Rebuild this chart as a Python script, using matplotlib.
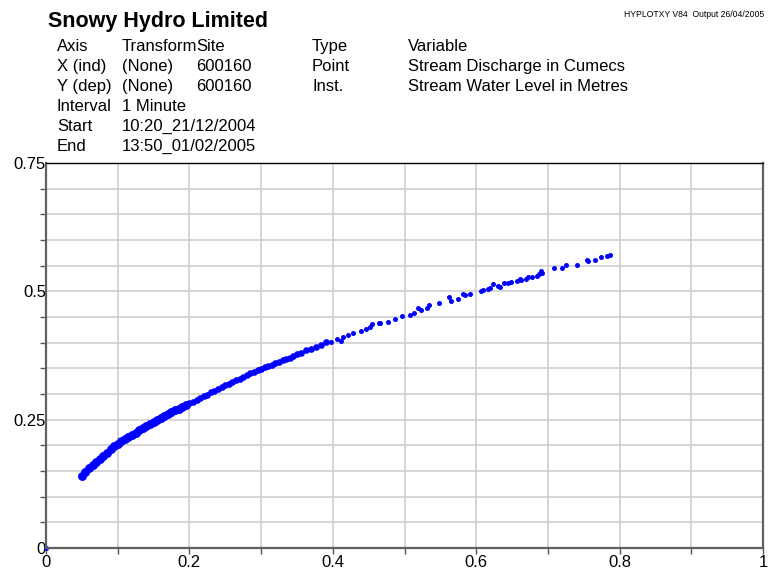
import matplotlib.pyplot as plt

plt.rcParams['font.family'] = ['Liberation Sans', 'DejaVu Sans']

# discharge (cumecs) vs water level (m), dense low-flow part
q_dense = [0.050, 0.055, 0.060, 0.065, 0.070, 0.075, 0.080, 0.085, 0.090, 0.095,
           0.100, 0.105, 0.110, 0.115, 0.120, 0.125, 0.130, 0.135, 0.140, 0.145,
           0.150, 0.155, 0.160, 0.165, 0.170, 0.175, 0.180, 0.185, 0.190, 0.195,
           0.200, 0.205, 0.210, 0.215, 0.220, 0.225, 0.230, 0.235, 0.240, 0.245,
           0.250, 0.255, 0.260, 0.265, 0.270, 0.275, 0.280, 0.285, 0.290, 0.295,
           0.300, 0.305, 0.310, 0.315, 0.320, 0.325, 0.330, 0.335, 0.340, 0.345,
           0.350, 0.356, 0.363, 0.370, 0.377, 0.384, 0.391]
h_dense = [0.141, 0.148, 0.155, 0.161, 0.168, 0.174, 0.180, 0.186, 0.192, 0.198,
           0.203, 0.208, 0.212, 0.217, 0.221, 0.225, 0.230, 0.234, 0.238, 0.242,
           0.246, 0.250, 0.253, 0.257, 0.261, 0.264, 0.268, 0.271, 0.275, 0.278,
           0.282, 0.285, 0.289, 0.292, 0.296, 0.299, 0.303, 0.306, 0.310, 0.313,
           0.317, 0.320, 0.323, 0.327, 0.330, 0.334, 0.337, 0.340, 0.343, 0.346,
           0.349, 0.352, 0.354, 0.357, 0.360, 0.363, 0.366, 0.368, 0.371, 0.374,
           0.377, 0.380, 0.385, 0.388, 0.391, 0.395, 0.401]

# sparse high-flow readings
q_sparse = [0.398, 0.406, 0.412, 0.414, 0.421, 0.428, 0.439, 0.446, 0.452, 0.455,
            0.464, 0.466, 0.477, 0.487, 0.496, 0.507, 0.513, 0.519, 0.523, 0.531,
            0.534, 0.548, 0.562, 0.565, 0.575, 0.582, 0.584, 0.592, 0.606, 0.609,
            0.616, 0.619, 0.624, 0.630, 0.633, 0.639, 0.645, 0.648, 0.657, 0.661,
            0.662, 0.670, 0.672, 0.678, 0.685, 0.688, 0.691, 0.692, 0.708, 0.720,
            0.725, 0.740, 0.754, 0.756, 0.766, 0.774, 0.783, 0.787, 0.0]
h_sparse = [0.402, 0.407, 0.404, 0.412, 0.415, 0.419, 0.423, 0.426, 0.431, 0.436,
            0.438, 0.438, 0.441, 0.446, 0.451, 0.454, 0.457, 0.468, 0.464, 0.468,
            0.473, 0.477, 0.488, 0.481, 0.485, 0.494, 0.492, 0.494, 0.501, 0.503,
            0.504, 0.506, 0.514, 0.511, 0.509, 0.516, 0.517, 0.519, 0.520, 0.525,
            0.522, 0.524, 0.527, 0.527, 0.530, 0.533, 0.540, 0.535, 0.545, 0.546,
            0.551, 0.551, 0.562, 0.559, 0.562, 0.566, 0.569, 0.571, 0.0]

x_ticks = [0, 0.2, 0.4, 0.6, 0.8, 1]
x_labels = ['0', '0.2', '0.4', '0.6', '0.8', '1']
x_minor = [0.1, 0.3, 0.5, 0.7, 0.9]
y_ticks = [0, 0.25, 0.5, 0.75]
y_labels = ['0', '0.25', '0.5', '0.75']
y_minor = [0.05, 0.1, 0.15, 0.2, 0.3, 0.35, 0.4, 0.45, 0.55, 0.6, 0.65, 0.7]

header = [
    ['Axis', 'Transform', 'Site', 'Type', 'Variable'],
    ['X (ind)', '(None)', '600160', 'Point', 'Stream Discharge in Cumecs'],
    ['Y (dep)', '(None)', '600160', 'Inst.', 'Stream Water Level in Metres'],
    ['Interval', '1 Minute', '', '', ''],
    ['Start', '10:20_21/12/2004', '', '', ''],
    ['End', '13:50_01/02/2005', '', '', ''],
]
col_x = [57, 122, 196, 312, 408]

W, H = 768, 575
fig = plt.figure(figsize=(W / 100, H / 100), dpi=100)
ax = fig.add_axes([46 / W, 1 - 548 / H, 717 / W, 385 / H])

ax.plot(q_dense[:30], h_dense[:30], 'o', color='#0000ff', ms=6.4, mew=0)
ax.plot(q_dense[30:], h_dense[30:], 'o', color='#0000ff', ms=4.8, mew=0)
ax.plot(q_sparse, h_sparse, 'o', color='#0000ff', ms=3.6, mew=0, clip_on=False)

ax.set_xlim(0, 1)
ax.set_ylim(0, 0.75)
ax.set_xticks(x_ticks, x_labels)
ax.set_xticks(x_minor, minor=True)
ax.set_yticks(y_ticks, y_labels)
ax.set_yticks(y_minor, minor=True)
ax.grid(True, which='both', color='#cccccc', lw=1.1)
ax.set_axisbelow(True)
ax.tick_params(which='both', direction='out', length=4, width=1,
               color='#555555', labelsize=12, pad=1)
ax.tick_params(axis='y', which='major', length=0, pad=0)
for s in ['left', 'bottom', 'right']:
    ax.spines[s].set_color('#606060')
    ax.spines[s].set_linewidth(1.6)
ax.spines['top'].set_color('black')
ax.spines['top'].set_linewidth(1.0)

def px(x, y):
    return x / W, 1 - y / H

fig.text(*px(48, 27), 'Snowy Hydro Limited', fontsize=15.5, fontweight='bold')
fig.text(*px(764, 17), 'HYPLOTXY V84  Output 26/04/2005', fontsize=6.2,
         ha='right')
row_y = [51, 71, 91, 111, 131, 151]
for row, y in zip(header, row_y):
    for cell, x in zip(row, col_x):
        if cell:
            fig.text(*px(x, y), cell, fontsize=12)

fig.savefig('out.png', dpi=100)
